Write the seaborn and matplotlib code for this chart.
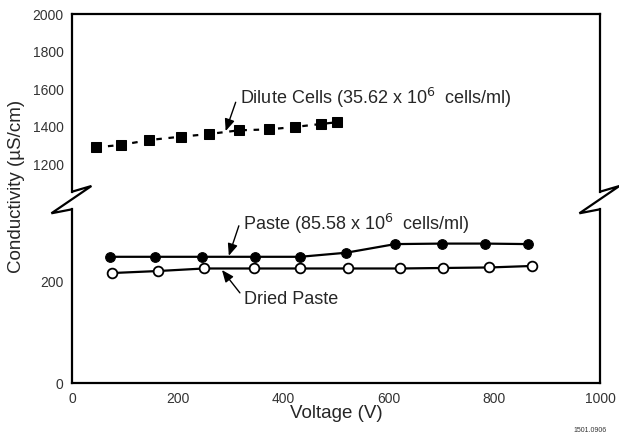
import matplotlib
matplotlib.use("Agg")
import matplotlib.pyplot as plt
from matplotlib.lines import Line2D
import seaborn as sns
import pandas as pd

# ---- data ----
dilute_v = [45, 93, 146, 206, 259, 316, 373, 422, 472, 501]
dilute_c = [1289, 1302, 1328, 1346, 1360, 1380, 1385, 1398, 1414, 1423]
paste_v = [72, 158, 246, 347, 432, 519, 612, 701, 783, 864]
paste_c = [249, 249, 249, 249, 249, 257, 274, 275, 275, 274]
dried_v = [75, 163, 250, 345, 432, 523, 621, 703, 790, 872]
dried_c = [217, 221, 226, 226, 226, 226, 226, 227, 228, 231]
x_ticks = [0, 200, 400, 600, 800, 1000]
upper_ticks = [1200, 1400, 1600, 1800, 2000]
lower_ticks = [0, 200]

sns.set_theme(style="white")
plt.rcParams['font.family'] = ['Liberation Sans', 'DejaVu Sans']

W, H = 619, 433
fig = plt.figure(figsize=(W / 100, H / 100), dpi=100)

def fx(px):
    return px / W

def fy(py):
    return 1 - py / H

L, R = 72, 600
up_top, up_bot = 14.3, 191.7
lo_top, lo_bot = 209.3, 383.3

ax_up = fig.add_axes([fx(L), fy(up_bot), fx(R) - fx(L), fy(up_top) - fy(up_bot)])
ax_lo = fig.add_axes([fx(L), fy(lo_bot), fx(R) - fx(L), fy(lo_top) - fy(lo_bot)])

df_d = pd.DataFrame({"v": dilute_v, "c": dilute_c})
df_p = pd.DataFrame({"v": paste_v, "c": paste_c})
df_r = pd.DataFrame({"v": dried_v, "c": dried_c})

sns.lineplot(data=df_d, x="v", y="c", ax=ax_up, color="black", lw=1.6,
             linestyle=(0, (2.5, 3)), marker="s", markersize=6.8,
             markeredgecolor="black", markerfacecolor="black", sort=False)
sns.lineplot(data=df_p, x="v", y="c", ax=ax_lo, color="black", lw=1.6,
             marker="o", markersize=7, markeredgecolor="black",
             markerfacecolor="black", sort=False)
sns.lineplot(data=df_r, x="v", y="c", ax=ax_lo, color="black", lw=1.6,
             marker="o", markersize=7, markeredgecolor="black",
             markeredgewidth=1.3, markerfacecolor="white", sort=False)

for ax in (ax_up, ax_lo):
    ax.set_xlim(0, 1000)
    ax.set_xlabel("")
    ax.set_ylabel("")
    for s in ax.spines.values():
        s.set_linewidth(1.6)
        s.set_color("black")
    ax.tick_params(axis="both", direction="out", length=4, width=1,
                   color="black", labelsize=10, labelcolor="#333333", pad=2)

ax_up.set_ylim(1052, 2000)
ax_up.set_yticks(upper_ticks)
ax_up.set_xticks([])
ax_up.spines["bottom"].set_visible(False)

ax_lo.set_ylim(0, 342.5)
ax_lo.set_yticks(lower_ticks)
ax_lo.set_xticks(x_ticks)
ax_lo.spines["top"].set_visible(False)
ax_lo.tick_params(axis="x", pad=2)

# axis labels
fig.text(fx(336), fy(414), "Voltage (V)", ha="center", va="center", fontsize=13.5)
fig.text(fx(17), fy(186), "Conductivity (\u00b5S/cm)", ha="center", va="center",
         rotation=90, fontsize=13.5)

# break marks
for x0 in (L, R):
    pts_x = [x0, x0 + 19.4, x0 - 20.6, x0]
    pts_y = [up_bot, 186, 213.3, lo_top]
    fig.add_artist(Line2D([fx(p) for p in pts_x], [fy(p) for p in pts_y],
                          color="black", lw=1.6, transform=fig.transFigure,
                          solid_joinstyle="miter"))

# annotations
arrow = dict(arrowstyle="-|>,head_length=0.6,head_width=0.25", color="black",
             lw=1.0, mutation_scale=12, shrinkA=0, shrinkB=0)
ax_up.text(318, 1553, "Dilute Cells (35.62 x 10$^6$  cells/ml)", fontsize=13,
           ha="left", va="center")
ax_up.annotate("", xy=(291, 1376), xytext=(310, 1530), arrowprops=arrow)

ax_lo.text(324, 313, "Paste (85.58 x 10$^6$  cells/ml)", fontsize=13,
           ha="left", va="center")
ax_lo.annotate("", xy=(297, 251), xytext=(316, 310), arrowprops=arrow)

ax_lo.text(326, 164, "Dried Paste", fontsize=13, ha="left", va="center")
ax_lo.annotate("", xy=(284, 223), xytext=(318, 178), arrowprops=arrow)

fig.text(fx(573), fy(430), "1501.0906", fontsize=5, color="#333333",
         ha="left", va="center")

fig.savefig("out.png", dpi=100)
